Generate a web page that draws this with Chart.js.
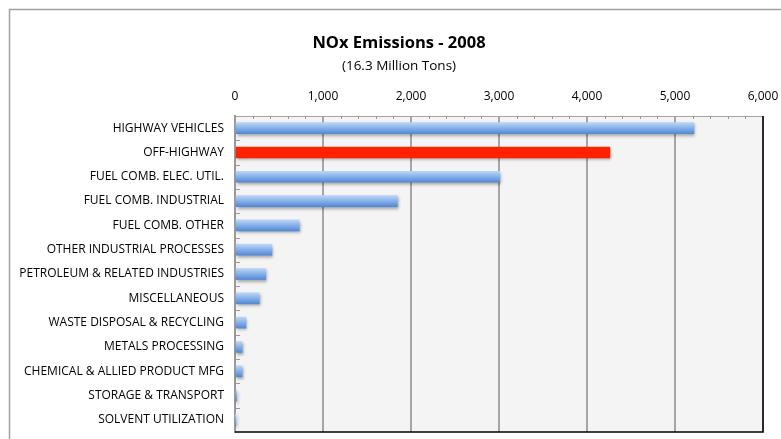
<!doctype html>
<html>
	<head>
		<title>NOx Emissions - 2008</title>
		<script src="https://cdn.jsdelivr.net/npm/chart.js@4.4.1/dist/chart.umd.min.js"></script>
		<style>
			body{margin:0;background:#fff;}
			#wrap{width:781px;height:439px;position:relative;overflow:hidden;}
		</style>
	</head>
	<body>
		<div id="wrap"><canvas id="chart" width="798" height="439"></canvas></div>
		<script>
			// data (thousand tons)
			const categories=['HIGHWAY VEHICLES','OFF-HIGHWAY','FUEL COMB. ELEC. UTIL.','FUEL COMB. INDUSTRIAL','FUEL COMB. OTHER','OTHER INDUSTRIAL PROCESSES','PETROLEUM & RELATED INDUSTRIES','MISCELLANEOUS','WASTE DISPOSAL & RECYCLING','METALS PROCESSING','CHEMICAL & ALLIED PRODUCT MFG','STORAGE & TRANSPORT','SOLVENT UTILIZATION'];
			const emissions=[5215,4260,3010,1845,730,420,350,275,125,80,80,20,5];
			const highlight=1;
			const xTicks=[0,1000,2000,3000,4000,5000,6000];

			const font='"Open Sans", sans-serif';

			//background, frame, borders, minor ticks, bar gradients
			const decor={
				id:'decor',
				beforeDraw(chart){
					const c=chart.ctx, a=chart.chartArea;
					c.save();
					c.fillStyle='#f4f4f4';
					c.fillRect(a.left,a.top,a.right-a.left,a.bottom-a.top);
					c.strokeStyle='#a0a0a0';
					c.lineWidth=1.5;
					c.beginPath();
					c.moveTo(9.5,chart.height);c.lineTo(9.5,9.5);c.lineTo(chart.width,9.5);
					c.stroke();
					c.restore();
				},
				beforeDatasetsDraw(chart){
					const c=chart.ctx;
					chart.getDatasetMeta(0).data.forEach((bar,i)=>{
						if(i===highlight) return;
						const g=c.createLinearGradient(0,bar.y-bar.height/2,0,bar.y+bar.height/2);
						g.addColorStop(0,'#bcd5f6');
						g.addColorStop(0.45,'#8ab3ec');
						g.addColorStop(1,'#5489d4');
						bar.options.backgroundColor=g;
					});
					c.save();
					c.shadowColor='rgba(0,0,0,0.35)';
					c.shadowBlur=3;
					c.shadowOffsetX=1;
					c.shadowOffsetY=2;
				},
				afterDatasetsDraw(chart){
					chart.ctx.restore();
				},
				afterDraw(chart){
					const c=chart.ctx, a=chart.chartArea, x=chart.scales.x, y=chart.scales.y;
					c.save();
					c.strokeStyle='#999';
					c.lineWidth=1;
					c.beginPath();
					for(let v=200;v<6000;v+=200){
						if(v%1000===0) continue;
						const px=Math.round(x.getPixelForValue(v))+0.5;
						c.moveTo(px,a.top);c.lineTo(px,a.top+3);
					}
					for(let i=0;i<categories.length-1;i++){
						const py=Math.round((y.getPixelForValue(i)+y.getPixelForValue(i+1))/2)+0.5;
						c.moveTo(a.left,py);c.lineTo(a.left+5,py);
					}
					c.stroke();
					c.strokeStyle='#000';
					c.lineWidth=1.5;
					c.beginPath();
					c.moveTo(a.left,a.bottom);c.lineTo(a.right,a.bottom);c.lineTo(a.right,a.top);
					c.stroke();
					c.restore();
				}
			};

			function noPad(s){s.paddingLeft=0;s.paddingRight=0;s.paddingTop=0;s.paddingBottom=0;}

			const ctx=document.getElementById('chart').getContext('2d');
			const myChart=new Chart(ctx,{
				type:'bar',
				data:{
					labels:categories,
					datasets:[{
						data:emissions,
						backgroundColor:emissions.map((v,i)=>i===highlight?'#ff2200':'#7eaae6'),
						borderWidth:0,
						barThickness:11
					}]
				},
				options:{
					indexAxis:'y',
					responsive:false,
					animation:false,
					layout:{padding:{left:0,right:0,top:0,bottom:7}},
					plugins:{
						legend:{display:false},
						tooltip:{enabled:false},
						title:{display:true,text:'NOx Emissions - 2008',color:'#000',
							font:{family:font,size:16.5,weight:'bold'},padding:{top:33,bottom:5}},
						subtitle:{display:true,text:'(16.3 Million Tons)',color:'#000',
							font:{family:font,size:13.5},padding:{top:0,bottom:0}}
					},
					scales:{
						x:{
							position:'top',
							min:0,max:6000,
							afterBuildTicks(s){s.ticks=xTicks.map(v=>({value:v}));},
							afterFit(s){s.height=42;noPad(s);s.paddingRight=35;},
							ticks:{color:'#000',padding:12,font:{family:font,size:12},
								callback:v=>v.toLocaleString('en-US')},
							grid:{color:'#a6a6a6',lineWidth:2,drawTicks:false},
							border:{color:'#a6a6a6',width:1}
						},
						y:{
							afterFit(s){s.width=235;noPad(s);},
							ticks:{color:'#000',padding:3,font:{family:font,size:12},autoSkip:false},
							grid:{display:false},
							border:{color:'#999',width:2}
						}
					}
				},
				plugins:[decor]
			});
		</script>
	</body>
</html>
